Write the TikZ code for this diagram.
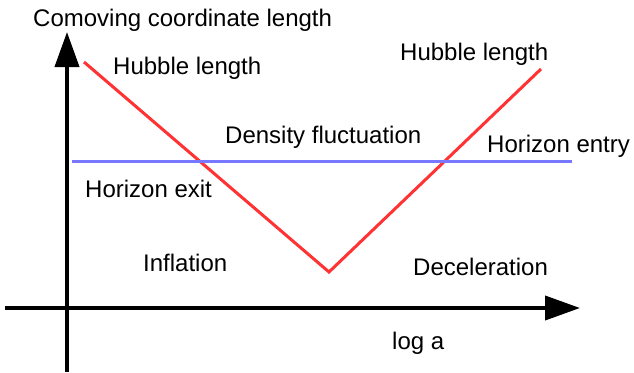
\documentclass[tikz,border=0pt]{standalone}
\usepackage{fontspec}
\setmainfont{Liberation Sans}
\usetikzlibrary{arrows.meta}
\definecolor{hubblered}{RGB}{255,51,51}
\definecolor{horizonblue}{RGB}{119,119,255}
\begin{document}
\begin{tikzpicture}[x=1pt, y=-1pt, font=\fontsize{24}{28}\selectfont,
    axis/.style={line width=4pt, -{Triangle[length=35pt,width=24pt]}},
    hubble/.style={line width=3pt, hubblered},
    horizon/.style={line width=3pt, horizonblue},
    lbl/.style={anchor=base west, inner sep=0pt}]
    \useasboundingbox (0,0) rectangle (634,372);

    % Ejes
    \coordinate (xs) at (5,308);
    \coordinate (xe) at (580,308);
    \coordinate (ys) at (67,372);
    \coordinate (ye) at (67,32);
    \draw[axis] (xs) -- (xe);
    \draw[axis] (ys) -- (ye);
    \node[lbl] (ylabel) at (33,26) {Comoving coordinate length};
    \node[lbl] (xlabel) at (392,349) {log a};

    % Radio de Hubble
    \coordinate (H1) at (84,62);
    \coordinate (Hmin) at (329,272);
    \coordinate (H2) at (541,69);
    \draw[hubble] (H1) -- (Hmin) -- (H2);
    \node[lbl] (hubbleL) at (113,74) {Hubble length};
    \node[lbl] (hubbleR) at (400,60) {Hubble length};

    % Escala de la fluctuación
    \coordinate (F1) at (72,161);
    \coordinate (F2) at (572,161);
    \draw[horizon] (F1) -- (F2);
    \node[lbl] (density) at (225,143) {Density fluctuation};
    \node[lbl] (entry) at (487,152) {Horizon entry};
    \node[lbl] (exit) at (85,197) {Horizon exit};

    % Épocas
    \node[lbl] (inflation) at (143,271) {Inflation};
    \node[lbl] (deceleration) at (413,275) {Deceleration};
\end{tikzpicture}
\end{document}
